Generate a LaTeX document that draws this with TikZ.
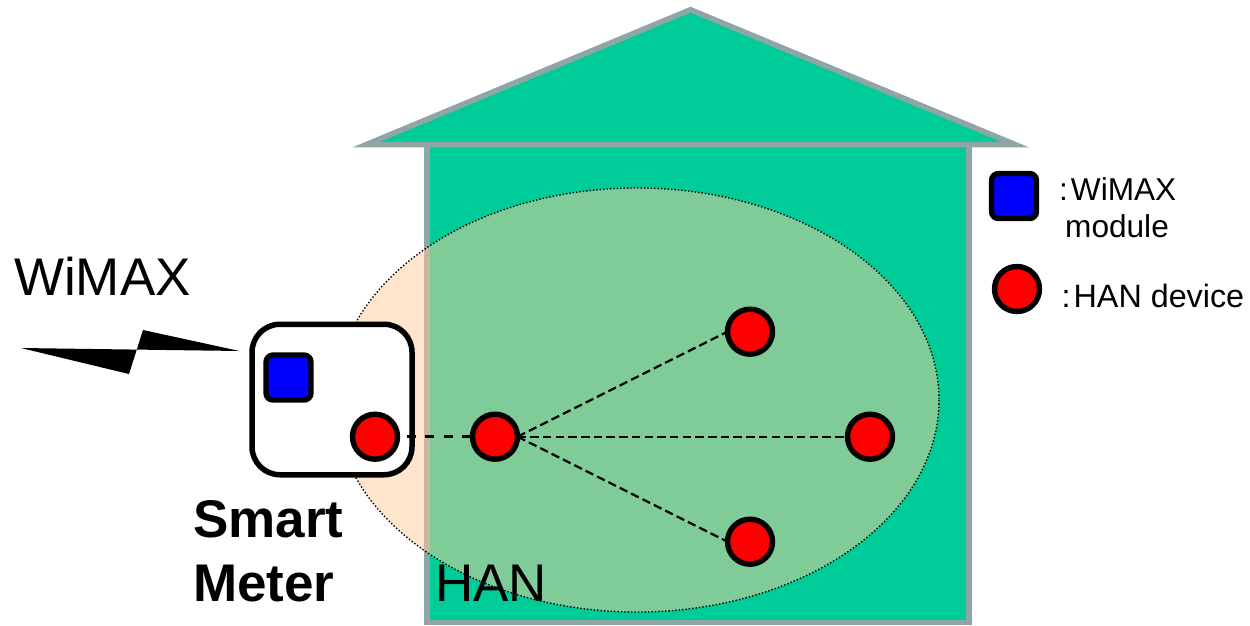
\documentclass[tikz,border=0pt]{standalone}
\usepackage{fontspec}
\setmainfont{Liberation Sans}
\definecolor{housegreen}{HTML}{00CC99}
\definecolor{housegray}{HTML}{8FA5A6}
\definecolor{hanpeach}{HTML}{FFCC99}
\tikzset{
  wall/.style={draw=housegray,fill=housegreen,line width=5.5pt,miter limit=10},
  handev/.style={circle,draw=black,fill=red,line width=5.4pt,minimum size=45pt,inner sep=0pt,outer sep=0pt},
  wimaxmod/.style={rectangle,rounded corners=7pt,draw=black,fill=blue,line width=5.4pt,minimum size=45pt,inner sep=0pt,outer sep=0pt},
  fanlink/.style={line width=2.2pt,dash pattern=on 8.5pt off 4.2pt},
  meterlink/.style={line width=2.6pt,dash pattern=on 9.3pt off 9.2pt},
  big/.style={anchor=base west,inner sep=0pt,font=\fontsize{53}{53}\selectfont},
  bigbold/.style={big,font=\fontsize{53}{53}\selectfont\bfseries},
  small/.style={anchor=base west,inner sep=0pt,font=\fontsize{31.6}{32}\selectfont},
  smallwide/.style={small,font=\fontsize{32.3}{33}\selectfont}
}
\begin{document}
\begin{tikzpicture}[x=1pt,y=-1pt]
\useasboundingbox (0,0) rectangle (1250,625);
% house
\draw[wall] (427,144.5) rectangle (969,622.5);
\draw[wall] (366.5,144.5) -- (690.5,9.7) -- (1015,144.5) -- cycle;
% HAN range
\fill[hanpeach,fill opacity=0.5] (637,400) ellipse [x radius=302,y radius=212];
\draw[black,line width=1.4pt,dotted] (637,400) ellipse [x radius=302,y radius=212];
% meter
\node[rectangle,rounded corners=28pt,draw=black,fill=white,line width=5.5pt,minimum width=160pt,minimum height=150.5pt,inner sep=0pt,outer sep=0pt] (meter) at (332,399.5) {};
\node[wimaxmod] (mod) at (288.5,377.5) {};
\node[handev] (d0) at (375,436.7) {};
\node[handev] (d1) at (495,436.7) {};
\node[handev] (d2) at (750,331.7) {};
\node[handev] (d3) at (870,436.7) {};
\node[handev] (d4) at (750,541.7) {};
\draw[meterlink,shorten <=9pt,shorten >=1pt] (d0.east) -- (d1.west);
\draw[fanlink] (d1.east) -- (d2.west);
\draw[fanlink] (d1.east) -- (d3.west);
\draw[fanlink] (d1.east) -- (d4.west);
% wireless bolt
\fill[black] (21,348) -- (129,374) -- (143,330) -- (239.5,351) -- cycle;
% labels
\node[big] (wimax) at (14,295) {WiMAX};
\node[bigbold] (smart) at (193,537.5) {Smart};
\node[bigbold] (smeter) at (193,601.5) {Meter};
\node[big] (han) at (435,601) {HAN};
% legend
\node[wimaxmod] (lmod) at (1014,196) {};
\node[handev] (ldev) at (1017,289) {};
\node[small] (lt1) at (1059,200) {:\kern 3pt WiMAX};
\node[small] (lt2) at (1065,237) {module};
\node[smallwide] (lt3) at (1061.5,307) {:\kern 3pt HAN device};
\end{tikzpicture}
\end{document}
